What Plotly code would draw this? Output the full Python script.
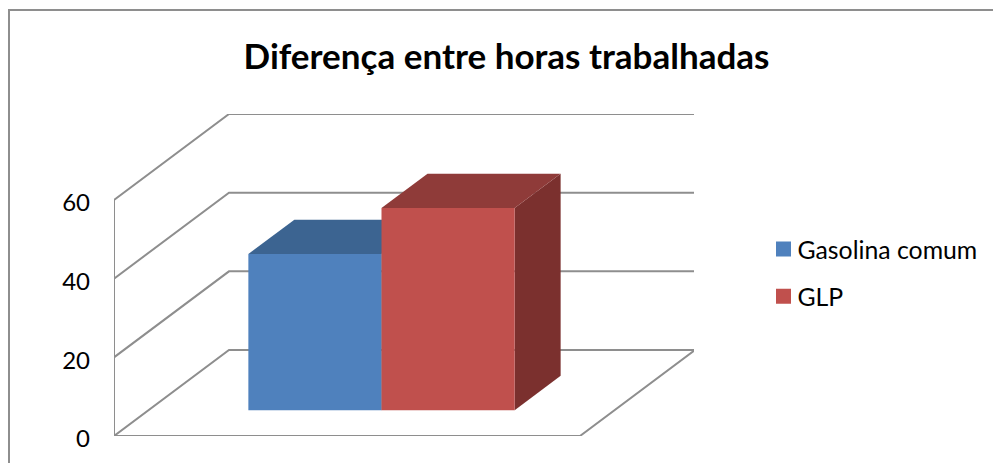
import plotly.graph_objects as go

title = "Diferença entre horas trabalhadas"
series = ["Gasolina comum", "GLP"]
values = [39.7, 51.4]
tick_values = [0, 20, 40, 60]
face_colors = [
    {"front": "#4F81BD", "top": "#3C6491", "side": "#2F4F75"},
    {"front": "#C0504D", "top": "#8F3B39", "side": "#7B302E"},
]

W, H = 993, 463
L, R, T, B = 114, 694, 114, 436
UNIT_Y = (436 - 200) / 60          # px per value unit
FLOOR_W = 466                      # front floor width, px (one category = 1 x unit)
DX = 115 / FLOOR_W                 # x shift for full chart depth (x units)
DY = 86 / UNIT_Y                   # y shift for full chart depth (value units)
GAP = 1.5                          # gap width in bar widths
BAR_W = 1 / (len(series) + GAP)
D0, D1 = 0.30, 0.70                # depth of bars front / back
GRID = "#8E8E8E"
FONT = "Lato, Carlito, 'Open Sans', sans-serif"


def proj(x, v, d):
    return x + d * DX, v + d * DY


def poly(points, color, name=None):
    xs, ys = zip(*[proj(*p) for p in points])
    return go.Scatter(x=list(xs) + [xs[0]], y=list(ys) + [ys[0]], mode="lines", fill="toself",
                      fillcolor=color, line=dict(width=0, color=color), hoverinfo="skip",
                      showlegend=False, name=name)


fig = go.Figure()

# walls / gridlines
for v in tick_values:
    pts = [proj(0, v, 0), proj(0, v, 1), proj(1, v, 1)]
    fig.add_trace(go.Scatter(x=[p[0] for p in pts], y=[p[1] for p in pts], mode="lines",
                             line=dict(color=GRID, width=2), hoverinfo="skip", showlegend=False))
# left wall edge + floor outline
for pts in ([proj(0, tick_values[0], 0), proj(0, tick_values[-1], 0)],
            [proj(0, 0, 0), proj(1, 0, 0), proj(1, 0, 1)]):
    fig.add_trace(go.Scatter(x=[p[0] for p in pts], y=[p[1] for p in pts], mode="lines",
                             line=dict(color=GRID, width=2), hoverinfo="skip", showlegend=False))

# 3D bars
for i, (name, val, col) in enumerate(zip(series, values, face_colors)):
    x0 = GAP / 2 * BAR_W + i * BAR_W
    x1 = x0 + BAR_W
    fig.add_trace(poly([(x1, 0, D0), (x1, 0, D1), (x1, val, D1), (x1, val, D0)], col["side"], name))
    fig.add_trace(poly([(x0, val, D0), (x0, val, D1), (x1, val, D1), (x1, val, D0)], col["top"], name))
    fig.add_trace(poly([(x0, 0, D0), (x1, 0, D0), (x1, val, D0), (x0, val, D0)], col["front"], name))

# legend entries
for i, (name, col) in enumerate(zip(series, face_colors)):
    fig.add_trace(go.Scatter(x=[None], y=[None], mode="markers", name=name, legendgroup=name,
                             marker=dict(symbol="square", size=15, color=col["front"])))

fig.update_layout(
    width=W, height=H,
    margin=dict(l=L, r=W - R, t=T, b=H - B, pad=0, autoexpand=False),
    paper_bgcolor="white", plot_bgcolor="rgba(0,0,0,0)",
    title=dict(text=title, x=506.5 / W, xanchor="center", y=1 - 57 / H, yanchor="middle",
               xref="container", yref="container",
               font=dict(family=FONT, size=35, color="black", weight="bold")),
    xaxis=dict(range=[0, (R - L) / FLOOR_W], visible=False, fixedrange=True),
    yaxis=dict(range=[0, (B - T) / UNIT_Y], tickvals=tick_values, showgrid=False, zeroline=False,
               showline=False, ticks="", ticklabelstandoff=23, ticklabelshift=3, fixedrange=True,
               tickfont=dict(family=FONT, size=24, color="black")),
    legend=dict(x=(757.5 - L) / (R - L), xanchor="left", y=(B - 226.5) / (B - T), yanchor="top",
                font=dict(family=FONT, size=24.8, color="black"), tracegroupgap=12,
                bgcolor="rgba(0,0,0,0)"),
    shapes=[dict(type="rect", xref="paper", yref="paper", layer="below",
                 x0=(9 - L) / (R - L), x1=(1010 - L) / (R - L),
                 y0=(B - 480) / (B - T), y1=(B - 10) / (B - T),
                 line=dict(color="#8E8E8E", width=2), fillcolor="rgba(0,0,0,0)")],
    showlegend=True,
)

post = """
document.body.style.margin = '0';
document.querySelectorAll('.legendpoints').forEach(function (g) {
  g.setAttribute('transform', 'translate(6,0)');
});
"""
fig.write_html("out.html", config={"displayModeBar": False}, post_script=post)
